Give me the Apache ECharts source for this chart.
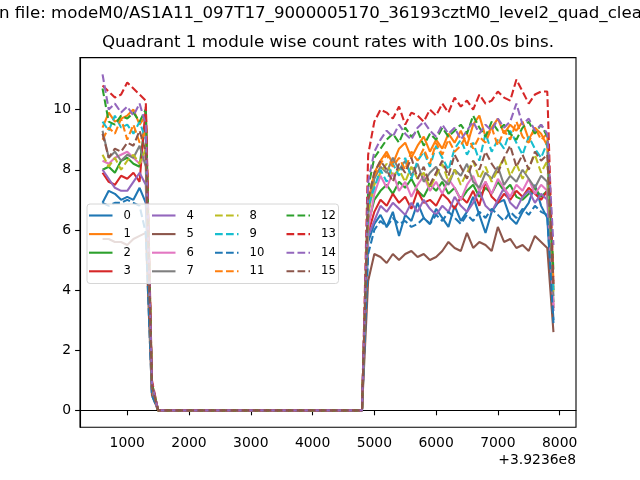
<!DOCTYPE html>
<html><head><meta charset="utf-8">
<script src="https://cdn.jsdelivr.net/npm/echarts@6/dist/echarts.min.js"></script>
<style>html,body{margin:0;padding:0;background:#fff}#c{width:640px;height:480px}</style>
</head><body><div id="c"></div>
<script>
// time bins (seconds, offset from 3.9236e8)
const binTimes = [600,700,800,900,1000,1100,1200,1300,1400,1500,1600,1700,1800,1900,2000,2100,2200,2300,2400,2500,2600,2700,2800,2900,3000,3100,3200,3300,3400,3500,3600,3700,3800,3900,4000,4100,4200,4300,4400,4500,4600,4700,4800,4900,5000,5100,5200,5300,5400,5500,5600,5700,5800,5900,6000,6100,6200,6300,6400,6500,6600,6700,6800,6900,7000,7100,7200,7300,7400,7500,7600,7700,7800,7900];
const moduleNames = ['0','1','2','3','4','5','6','7','8','9','10','11','12','13','14','15'];
const xTickValues = [1000,2000,3000,4000,5000,6000,7000,8000];
const yTickValues = [0,2,4,6,8,10];
// bins 1500..4800 (no counts)
const gapZeros = [0,0,0,0,0,0,0,0,0,0,0,0,0,0,0,0,0,0,0,0,0,0,0,0,0,0,0,0,0,0,0,0,0,0];
// bins 600..1300
const m0Left  = [6.9,7.3,7.2,7.0,7.1,7.0,7.4,6.9];
const m1Left  = [9.4,9.9,9.6,9.7,9.8,10.0,9.5,9.8];
const m2Left  = [8.0,8.1,7.9,8.3,8.4,8.2,8.1,9.8];
const m3Left  = [7.9,7.6,7.5,7.8,7.7,7.9,7.6,10.1];
const m4Left  = [8.0,7.7,7.4,7.3,7.3,7.6,7.9,7.5];
const m5Left  = [5.7,5.7,5.6,5.6,5.5,5.7,5.8,5.9];
const m6Left  = [8.3,8.2,8.4,8.5,8.6,8.4,8.2,8.5];
const m7Left  = [9.3,8.4,8.6,8.3,8.5,8.4,8.8,8.1];
const m8Left  = [8.5,8.1,8.4,8.0,8.3,8.5,8.2,8.7];
const m9Left  = [9.6,9.3,9.8,9.4,9.5,9.2,9.6,9.0];
const m10Left = [6.9,6.8,6.9,6.9,7.0,6.9,6.8,5.9];
const m11Left = [9.0,9.4,9.2,9.7,9.0,9.5,8.9,9.3];
const m12Left = [10.7,9.6,9.5,9.8,9.7,9.9,9.6,10.0];
const m13Left = [10.8,10.6,10.4,10.5,10.9,10.7,10.5,10.3];
const m14Left = [11.17,10.0,10.2,9.9,10.1,9.8,10.2,9.5];
const m15Left = [9.2,8.4,8.7,8.6,8.9,8.8,9.3,8.6];
// bin 1400, bin 4900, bin 7900 per module
const dropValues = [0.6,0.9,0.7,0.8,0.6,0.5,0.7,0.7,0.8,0.9,0.5,0.8,0.9,1.0,0.9,0.8];
const riseValues = [5.6,6.9,6.2,5.9,5.8,4.3,6.0,6.5,6.6,6.8,5.2,7.2,7.4,8.5,7.6,7.0];
const endValues  = [3.0,4.0,3.6,3.4,3.3,2.6,3.5,3.8,3.9,4.0,2.9,4.3,4.6,4.1,5.5,4.2];
// bins 5000..7800
const m0Right  = [6.2,6.5,6.1,6.6,5.8,6.5,6.3,6.9,6.4,6.2,6.7,6.4,6.1,6.8,6.3,6.6,7.1,6.5,5.9,6.6,6.9,7.0,6.4,6.2,6.6,6.9,7.5,6.8,6.4];
const m1Right  = [7.9,8.3,8.6,8.2,8.7,8.9,8.4,8.8,9.1,8.6,9.0,8.7,9.2,8.9,9.3,8.8,9.5,9.8,9.1,9.4,9.7,9.2,9.5,9.3,9.6,9.0,9.4,9.2,8.8];
const m2Right  = [7.0,7.3,7.5,7.2,7.6,7.4,7.7,7.3,7.1,7.5,7.3,7.6,7.2,7.4,7.0,7.3,7.5,7.1,7.4,7.2,7.6,7.3,7.5,7.1,7.0,7.2,7.4,7.1,7.3];
const m3Right  = [6.6,7.0,6.8,7.2,6.9,7.1,6.7,7.3,6.9,7.0,6.8,7.2,7.0,6.7,7.1,6.9,7.3,6.8,7.6,7.1,6.9,7.2,7.0,7.3,7.1,7.4,7.2,7.0,7.3];
const m4Right  = [6.3,6.8,6.6,6.9,6.7,6.5,6.9,6.6,7.0,6.7,6.5,6.8,6.6,7.1,6.8,6.6,6.9,7.3,6.8,6.6,7.0,7.4,6.9,6.7,7.1,7.3,6.9,7.2,7.0];
const m5Right  = [5.2,5.1,4.9,5.2,5.0,5.2,5.3,5.1,5.2,5.0,5.1,5.3,5.6,5.4,5.3,5.9,5.4,5.6,5.5,5.3,6.1,5.6,5.7,5.4,5.5,5.3,5.8,5.6,5.4];
const m6Right  = [7.2,7.8,7.4,7.9,7.3,7.6,7.1,7.5,7.8,7.3,7.6,7.2,7.7,7.4,7.0,7.5,7.8,7.3,7.6,7.2,7.7,7.4,7.1,7.5,7.3,7.7,7.2,7.5,7.3];
const m7Right  = [7.7,8.1,7.9,8.4,8.0,8.3,7.8,8.2,7.6,7.9,8.1,7.7,7.5,8.0,7.8,8.2,7.6,7.4,7.9,7.7,8.1,7.5,7.8,7.6,8.0,7.7,7.4,7.8,7.6];
const m8Right  = [7.5,7.9,8.2,7.8,8.0,7.6,8.1,7.7,7.9,7.4,7.8,8.2,7.6,8.0,7.5,7.9,8.3,7.7,8.1,7.6,8.0,8.4,7.8,8.2,7.7,8.1,8.5,7.9,8.3];
const m9Right  = [7.4,8.0,7.6,8.2,7.8,8.4,7.7,8.3,8.6,8.1,8.8,8.4,8.0,8.7,9.0,8.5,8.9,8.3,9.2,8.6,9.0,8.7,9.3,8.9,8.5,9.1,8.7,8.4,8.9];
const m10Right = [6.0,6.3,6.1,6.4,6.2,6.3,6.1,6.2,6.4,6.2,6.5,6.3,6.6,6.4,6.2,6.5,6.3,6.6,6.4,6.7,6.5,6.3,6.6,6.4,6.7,6.5,6.8,6.6,6.5];
const m11Right = [7.8,8.2,8.5,8.1,8.4,8.0,8.6,8.3,8.7,8.2,8.9,8.5,9.0,8.6,8.8,9.2,8.7,9.1,8.9,9.4,8.8,9.3,9.0,9.6,9.1,8.9,9.4,9.0,9.2];
const m12Right = [8.4,8.7,9.0,9.2,8.9,9.4,9.1,9.3,8.8,9.2,9.0,9.4,9.1,9.3,9.5,9.2,9.8,9.4,9.1,9.6,9.3,9.5,9.2,9.0,9.4,9.6,9.2,9.5,9.1];
const m13Right = [9.6,10.0,9.9,9.7,10.1,9.5,9.9,9.8,9.6,10.0,9.8,10.2,9.9,10.4,10.1,10.3,10.0,10.5,10.2,10.3,10.6,10.4,10.3,11.0,10.6,10.2,10.5,10.6,10.6];
const m14Right = [8.6,9.0,9.3,9.1,9.5,9.2,9.0,9.4,9.6,9.3,9.1,9.5,9.2,9.4,9.0,9.3,9.6,9.2,9.5,9.3,9.7,9.4,9.6,10.2,9.5,9.7,9.3,9.5,9.2];
const m15Right = [7.9,8.3,8.0,7.6,8.2,7.9,8.4,7.7,8.1,7.5,7.9,8.3,7.8,8.5,8.1,7.7,8.3,8.0,8.6,8.2,7.9,8.4,8.8,8.1,8.5,8.0,8.6,8.3,8.5];

const leftParts = [m0Left,m1Left,m2Left,m3Left,m4Left,m5Left,m6Left,m7Left,m8Left,m9Left,m10Left,m11Left,m12Left,m13Left,m14Left,m15Left];
const rightParts = [m0Right,m1Right,m2Right,m3Right,m4Right,m5Right,m6Right,m7Right,m8Right,m9Right,m10Right,m11Right,m12Right,m13Right,m14Right,m15Right];

const palette = ['#1f77b4','#ff7f0e','#2ca02c','#d62728','#9467bd','#8c564b','#e377c2','#7f7f7f','#bcbd22','#17becf'];
const LW = 1.5*100/72;
const FONT = 'DejaVu Sans';
const SOLID_ICON = 'path://M0,0h23.5v2.1h-23.5z';
const DASH_ICON = 'path://M0,0h7.7v2.1h-7.7z M11,0h7.7v2.1h-7.7z M22,0h1.5v2.1h-1.5z';

const series = moduleNames.map((name, i) => {
  const vals = leftParts[i].concat([dropValues[i]], gapZeros, [riseValues[i]], rightParts[i], [endValues[i]]);
  const dashed = i >= 8;
  return {
    name: name,
    type: 'line',
    symbol: 'none',
    showSymbol: false,
    z: 2,
    data: binTimes.map((t, k) => [t, vals[k]]),
    lineStyle: {
      color: palette[i % 10],
      width: LW,
      type: dashed ? [3.7*LW, 1.6*LW] : 'solid',
      cap: 'butt'
    },
    itemStyle: { color: palette[i % 10] },
    emphasis: { disabled: true },
    animation: false
  };
});

const legendCols = [
  { names: moduleNames.slice(0,4), left: 89 },
  { names: moduleNames.slice(4,8), left: 152 },
  { names: moduleNames.slice(8,12), left: 215 },
  { names: moduleNames.slice(12,16), left: 286.5 }
];
const legends = legendCols.map(c => ({
  data: c.names.map(n => ({ name: n, icon: (+n >= 8) ? DASH_ICON : SOLID_ICON })),
  orient: 'vertical',
  left: c.left,
  top: 208.5,
  padding: 0,
  z: 10,
  itemWidth: 23.5,
  itemHeight: 2.1,
  itemGap: 4.6,
  selectedMode: false,
  itemStyle: { borderWidth: 0 },
  textStyle: { fontFamily: FONT, fontSize: 11.6, lineHeight: 14, color: '#000', padding: [0,0,0,6] }
}));

const chart = echarts.init(document.getElementById('c'), null, { renderer: 'canvas' });
chart.setOption({
  animation: false,
  backgroundColor: '#fff',
  title: {
    text: 'Quadrant 1 module wise count rates with 100.0s bins.',
    left: 328, top: 34, textAlign: 'center', padding: 0,
    textStyle: { fontFamily: FONT, fontSize: 16.67, fontWeight: 'normal', color: '#000' }
  },
  graphic: [
    { type: 'text', left: -1, top: 5, silent: true,
      style: { text: 'n file: modeM0/AS1A11_097T17_9000005170_36193cztM0_level2_quad_clean.evt', font: '16.67px "DejaVu Sans"', fill: '#000' } },
    { type: 'text', right: 64, top: 453, silent: true,
      style: { text: '+3.9236e8', font: '13.9px "DejaVu Sans"', fill: '#000', textAlign: 'right' } },
    { type: 'rect', left: 86.5, top: 203.5, silent: true, z: 3,
      shape: { width: 251.5, height: 79.5, r: 3 },
      style: { fill: 'rgba(255,255,255,0.8)', stroke: '#d6d6d6', lineWidth: 1 } }
  ],
  legend: legends,
  grid: { left: 80, right: 64, top: 57.6, bottom: 52.8, show: true, borderColor: '#000', borderWidth: 1.1, backgroundColor: 'transparent' },
  xAxis: {
    type: 'value', min: 235, max: 8265,
    axisLine: { show: true, lineStyle: { color: '#000', width: 1.1 } },
    axisTick: { show: true, length: 4.9, lineStyle: { color: '#000', width: 1.1 }, customValues: xTickValues },
    axisLabel: { customValues: xTickValues, formatter: v => String(v), margin: 9, color: '#000', fontFamily: FONT, fontSize: 13.9 },
    splitLine: { show: false }
  },
  yAxis: {
    type: 'value', min: -0.5585, max: 11.7285,
    axisLine: { show: true, lineStyle: { color: '#000', width: 1.1 } },
    axisTick: { show: true, length: 4.9, lineStyle: { color: '#000', width: 1.1 }, customValues: yTickValues },
    axisLabel: { customValues: yTickValues, formatter: v => String(v), margin: 9, color: '#000', fontFamily: FONT, fontSize: 13.9 },
    splitLine: { show: false }
  },
  series: series
});
</script></body></html>
